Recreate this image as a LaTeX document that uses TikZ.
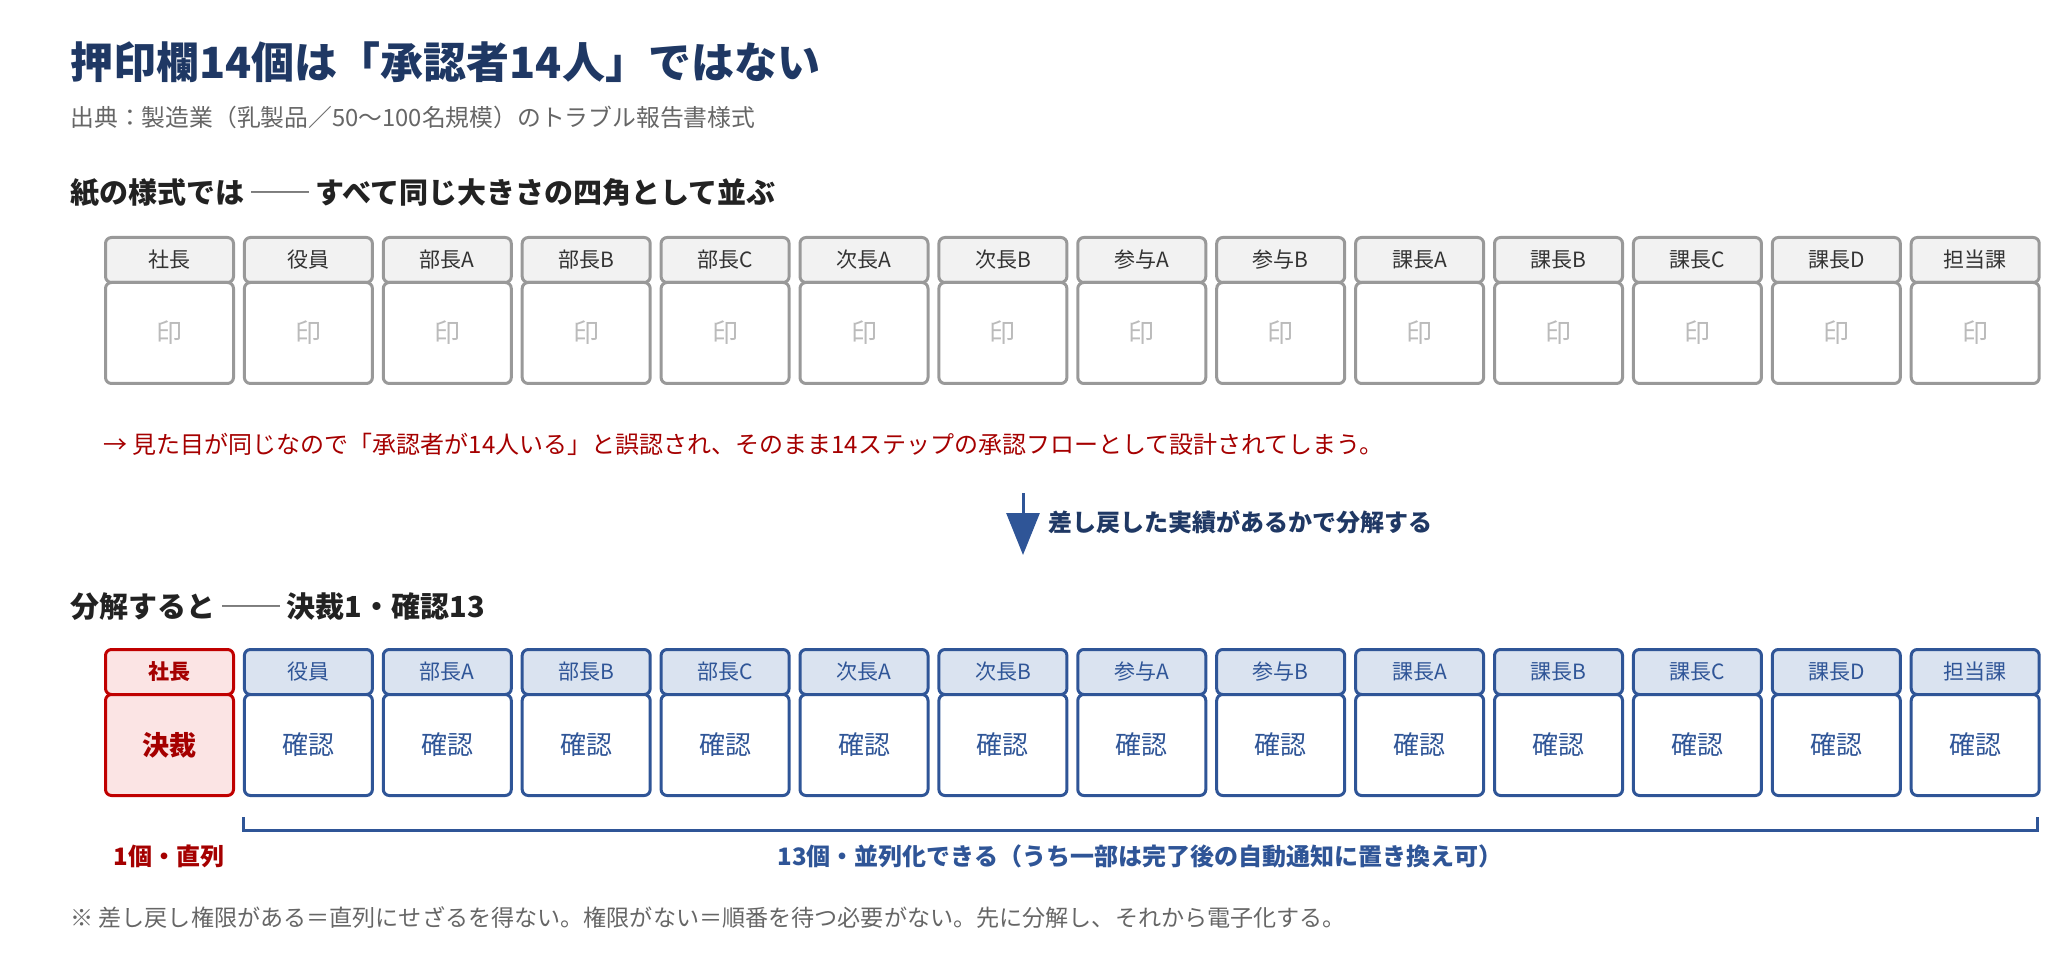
\documentclass[tikz,border=0pt]{standalone}
\usepackage{fontspec}
\setmainfont{Noto Sans CJK JP}
\usetikzlibrary{arrows.meta}
\definecolor{titlenavy}{HTML}{1F3864}
\definecolor{subgray}{HTML}{666666}
\definecolor{headdark}{HTML}{222222}
\definecolor{boxgray}{HTML}{999999}
\definecolor{headgray}{HTML}{F2F2F2}
\definecolor{labelgray}{HTML}{333333}
\definecolor{stampgray}{HTML}{BBBBBB}
\definecolor{notered}{HTML}{A50000}
\definecolor{boxred}{HTML}{C00000}
\definecolor{pinkfill}{HTML}{FBE4E4}
\definecolor{boxblue}{HTML}{2F5597}
\definecolor{bluefill}{HTML}{DAE3F0}
\tikzset{
    cell/.style={rounded corners=3pt, line width=1.5pt, minimum width=64pt,
        inner sep=0pt, anchor=north west},
    paperhead/.style={cell, draw=boxgray, fill=headgray, minimum height=22.5pt,
        text=labelgray, font=\fontsize{10.5}{12}\selectfont},
    paperbody/.style={cell, draw=boxgray, fill=white, minimum height=50.5pt,
        text=stampgray, font=\fontsize{13}{15}\selectfont},
    redhead/.style={cell, draw=boxred, fill=pinkfill, minimum height=22.5pt,
        text=notered, font=\fontsize{10.5}{12}\selectfont\bfseries},
    redbody/.style={cell, draw=boxred, fill=pinkfill, minimum height=50.5pt,
        text=notered, font=\fontsize{13.5}{15}\selectfont\bfseries},
    bluehead/.style={cell, draw=boxblue, fill=bluefill, minimum height=22.5pt,
        text=boxblue, font=\fontsize{10.5}{12}\selectfont},
    bluebody/.style={cell, draw=boxblue, fill=white, minimum height=50.5pt,
        text=boxblue, font=\fontsize{13}{15}\selectfont},
    txt/.style={anchor=west, inner sep=0pt}
}
\begin{document}
\begin{tikzpicture}[x=0.5pt, y=-0.5pt]
    \useasboundingbox (0,0) rectangle (2048,972);

    % titles
    \node[txt, text=titlenavy, font=\fontsize{21.5}{24}\selectfont\bfseries] (title) at (70,62) {押印欄14個は「承認者14人」ではない};
    \node[txt, text=subgray, font=\fontsize{11.9}{14}\selectfont] (source) at (70,117) {出典：製造業（乳製品／50〜100名規模）のトラブル報告書様式};
    \node[txt, text=headdark, font=\fontsize{14.5}{16}\selectfont\bfseries] (paperlbl) at (70,193) {紙の様式では ── すべて同じ大きさの四角として並ぶ};

    % paper form: 14 boxes of the same size
    \foreach \name [count=\p] in {社長,役員,部長A,部長B,部長C,次長A,次長B,参与A,参与B,課長A,課長B,課長C,課長D,担当課} {
        \node[paperhead] (hd\p) at ({104+(\p-1)*138.9},236) {\name};
        \node[paperbody] (bd\p) at ({104+(\p-1)*138.9},281) {印};};

    \node[txt, text=notered, font=\fontsize{12}{14}\selectfont] (misread) at (103,444) {→ 見た目が同じなので「承認者が14人いる」と誤認され、そのまま14ステップの承認フローとして設計されてしまう。};

    % decomposition arrow
    \coordinate (arTop) at (1023,493);
    \coordinate (arBot) at (1023,555);
    \draw[boxblue, line width=1.5pt, -{Triangle[width=16.5pt,length=21pt]}] (arTop) -- (arBot);
    \node[txt, text=titlenavy, font=\fontsize{12}{14}\selectfont\bfseries] (arlbl) at (1048,522) {差し戻した実績があるかで分解する};

    \node[txt, text=headdark, font=\fontsize{14.5}{16}\selectfont\bfseries] (splitlbl) at (70,607) {分解すると ── 決裁1・確認13};

    % decomposed form: 1 decision + 13 checks
    \node[redhead] (dhd1) at (104,648) {社長};
    \node[redbody] (dbd1) at (104,693) {決裁};
    \foreach \name [count=\p from 2] in {役員,部長A,部長B,部長C,次長A,次長B,参与A,参与B,課長A,課長B,課長C,課長D,担当課} {
        \node[bluehead] (dhd\p) at ({104+(\p-1)*138.9},648) {\name};
        \node[bluebody] (dbd\p) at ({104+(\p-1)*138.9},693) {確認};};

    % bracket under the 13 checks
    \coordinate (brL) at (243,817);
    \coordinate (brR) at (2037,817);
    \draw[boxblue, line width=1.5pt] (brL) -- ++(0,13) -| (brR);

    \node[text=notered, inner sep=0pt, font=\fontsize{12}{14}\selectfont\bfseries] (seriallbl) at (169,856) {1個・直列};
    \node[text=boxblue, inner sep=0pt, font=\fontsize{12}{14}\selectfont\bfseries] (parallbl) at (1140,856) {13個・並列化できる（うち一部は完了後の自動通知に置き換え可）};

    \node[txt, text=subgray, font=\fontsize{11.55}{14}\selectfont] (footnote) at (70,918) {※ 差し戻し権限がある＝直列にせざるを得ない。権限がない＝順番を待つ必要がない。先に分解し、それから電子化する。};
\end{tikzpicture}
\end{document}
